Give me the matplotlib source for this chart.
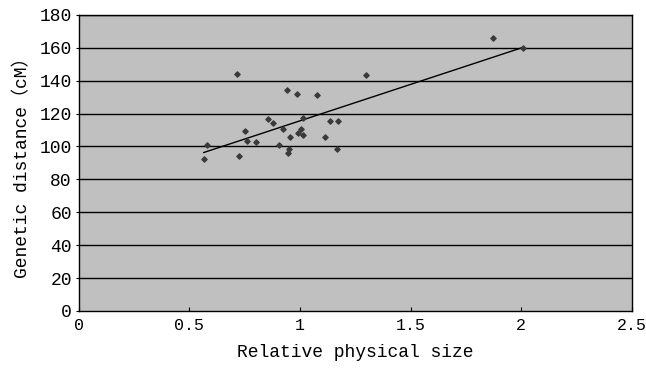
import numpy as np
import matplotlib.pyplot as plt

# relative physical size vs genetic distance
size = [0.565, 0.58, 0.714, 0.726, 0.75, 0.762, 0.80, 0.857, 0.88, 0.903,
        0.924, 0.94, 0.944, 0.948, 0.953, 0.985, 0.989, 1.006, 1.014, 1.015,
        1.077, 1.112, 1.135, 1.168, 1.17, 1.297, 1.871, 2.01]
dist = [92.6, 100.7, 144.3, 94.0, 109.2, 103.2, 102.7, 116.5, 114.3, 101.1,
        110.6, 134.3, 96.2, 98.7, 106.0, 131.9, 108.2, 110.6, 117.1, 107.2,
        131.3, 106.0, 115.7, 98.7, 115.7, 143.3, 166.0, 160.0]

# trend line end points
trend_x = [0.565, 2.01]
trend_y = [96.3, 160.3]

x = np.array(size)
y = np.array(dist)

plt.rcParams['font.family'] = ['Liberation Mono', 'Noto Sans CJK SC']

fig = plt.figure(figsize=(6.46, 3.71), dpi=100)
ax = fig.add_axes([0.122, 0.162, 0.856, 0.798])
ax.set_facecolor('#c0c0c0')

for g in range(20, 181, 20):
    ax.axhline(g, color='black', lw=1.0, zorder=1)

ax.plot(trend_x, trend_y, color='black', lw=1.0, zorder=2)
ax.scatter(x, y, marker='D', s=7, color='#3a3a3a', zorder=3)

ax.set_xlim(0, 2.5)
ax.set_ylim(0, 180)
ax.set_xticks([0, 0.5, 1, 1.5, 2, 2.5])
ax.set_xticklabels(['0', '0.5', '1', '1.5', '2', '2.5'])
ax.set_yticks(range(0, 181, 20))
ax.tick_params(axis='x', labelsize=12, direction='in', length=3, pad=5)
ax.tick_params(axis='y', labelsize=13, direction='out', length=2, pad=3)
for s in ax.spines.values():
    s.set_color('black')
    s.set_linewidth(1.0)

ax.set_xlabel('Relative physical size', fontsize=13, labelpad=8)
ax.set_ylabel('Genetic distance（cM）', fontsize=13, labelpad=6)

fig.savefig('out.png', dpi=100)
